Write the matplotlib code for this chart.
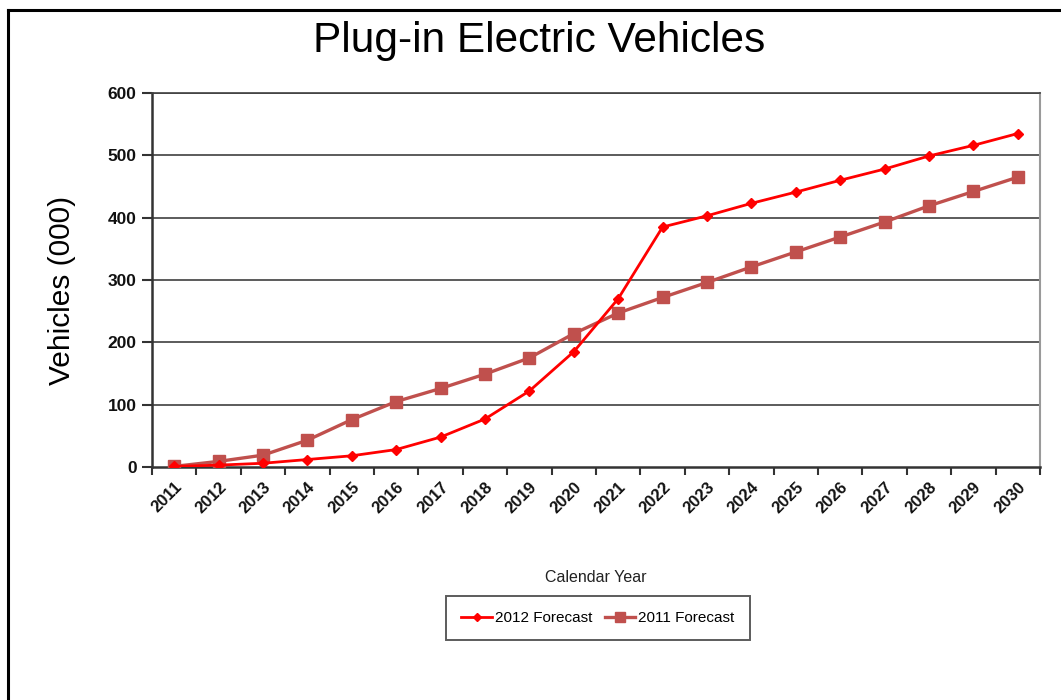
import matplotlib
matplotlib.use("Agg")
import matplotlib.pyplot as plt
from matplotlib.lines import Line2D
import numpy as np

years = [str(y) for y in range(2011, 2031)]
forecast_2012 = [1, 3, 6, 12, 18, 28, 48, 77, 122, 185,
                 270, 385, 403, 423, 441, 460, 478, 499, 516, 535]
forecast_2011 = [1, 9, 19, 43, 76, 105, 126, 149, 175, 214,
                 247, 272, 296, 321, 345, 369, 393, 419, 442, 465]
y_ticks = [0, 100, 200, 300, 400, 500, 600]

FONT = "Liberation Sans"
W, H = 1061, 700
fig = plt.figure(figsize=(W / 100, H / 100), dpi=100)

# outer frame (left and top edges)
fig.add_artist(Line2D([8 / W, 8 / W], [0, 1 - 10 / H], transform=fig.transFigure,
                      color="black", lw=2.2))
fig.add_artist(Line2D([8 / W, 1], [1 - 10 / H, 1 - 10 / H], transform=fig.transFigure,
                      color="black", lw=2.2))

left, right, top, bottom = 152, 1040, 93, 467
ax = fig.add_axes([left / W, 1 - bottom / H, (right - left) / W, (bottom - top) / H])

x = np.arange(len(years))
ax.plot(x, forecast_2012, color="#FF0000", lw=2.0, marker="D", markersize=5,
        label="2012 Forecast", zorder=4)
ax.plot(x, forecast_2011, color="#C0504D", lw=2.4, marker="s", markersize=9,
        label="2011 Forecast", zorder=3)

ax.set_xlim(-0.5, len(years) - 0.5)
ax.set_ylim(0, 600)
ax.set_yticks(y_ticks)
ax.set_yticklabels([str(v) for v in y_ticks], fontweight="bold", fontsize=12.5,
                   family=FONT, color="#111111")
for v in y_ticks[1:]:
    ax.axhline(v, color="#404040", lw=1.2, zorder=1)

ax.set_xticks(x)
ax.set_xticklabels(years, rotation=45, ha="right", rotation_mode="anchor",
                   fontweight="bold", fontsize=12, family=FONT, color="#111111")
ax.set_xticks(np.arange(-0.5, len(years), 1.0), minor=True)
ax.tick_params(axis="x", which="major", length=0, pad=9)
ax.tick_params(axis="x", which="minor", length=6, width=1.5, direction="out", color="#333333")
ax.tick_params(axis="y", length=7, width=1.5, direction="out", color="#333333", pad=4)

for s in ("left", "bottom"):
    ax.spines[s].set_color("#333333")
    ax.spines[s].set_linewidth(1.8)
ax.spines["top"].set_color("#404040")
ax.spines["top"].set_linewidth(1.2)
ax.spines["right"].set_color("#9a9a9a")
ax.spines["right"].set_linewidth(1.5)

fig.text(539 / W, 1 - 41 / H, "Plug-in Electric Vehicles", ha="center", va="center",
         fontsize=30.5, family=FONT)
fig.text(62 / W, 1 - 290 / H, "Vehicles (000)", ha="center", va="center", rotation=90,
         fontsize=21.5, family=FONT)
fig.text(596 / W, 1 - 577 / H, "Calendar Year", ha="center", va="center",
         fontsize=11.5, family=FONT, color="#222222")

leg = fig.legend(loc="center", bbox_to_anchor=(598 / W, 1 - 618 / H), ncol=2,
                 frameon=True, fancybox=False, edgecolor="#333333",
                 prop={"family": FONT, "size": 11},
                 handlelength=2.0, columnspacing=0.8, handletextpad=0.2,
                 borderpad=1.0, markerscale=0.75)
leg.get_frame().set_linewidth(1.4)

fig.savefig("out.png", dpi=100)
